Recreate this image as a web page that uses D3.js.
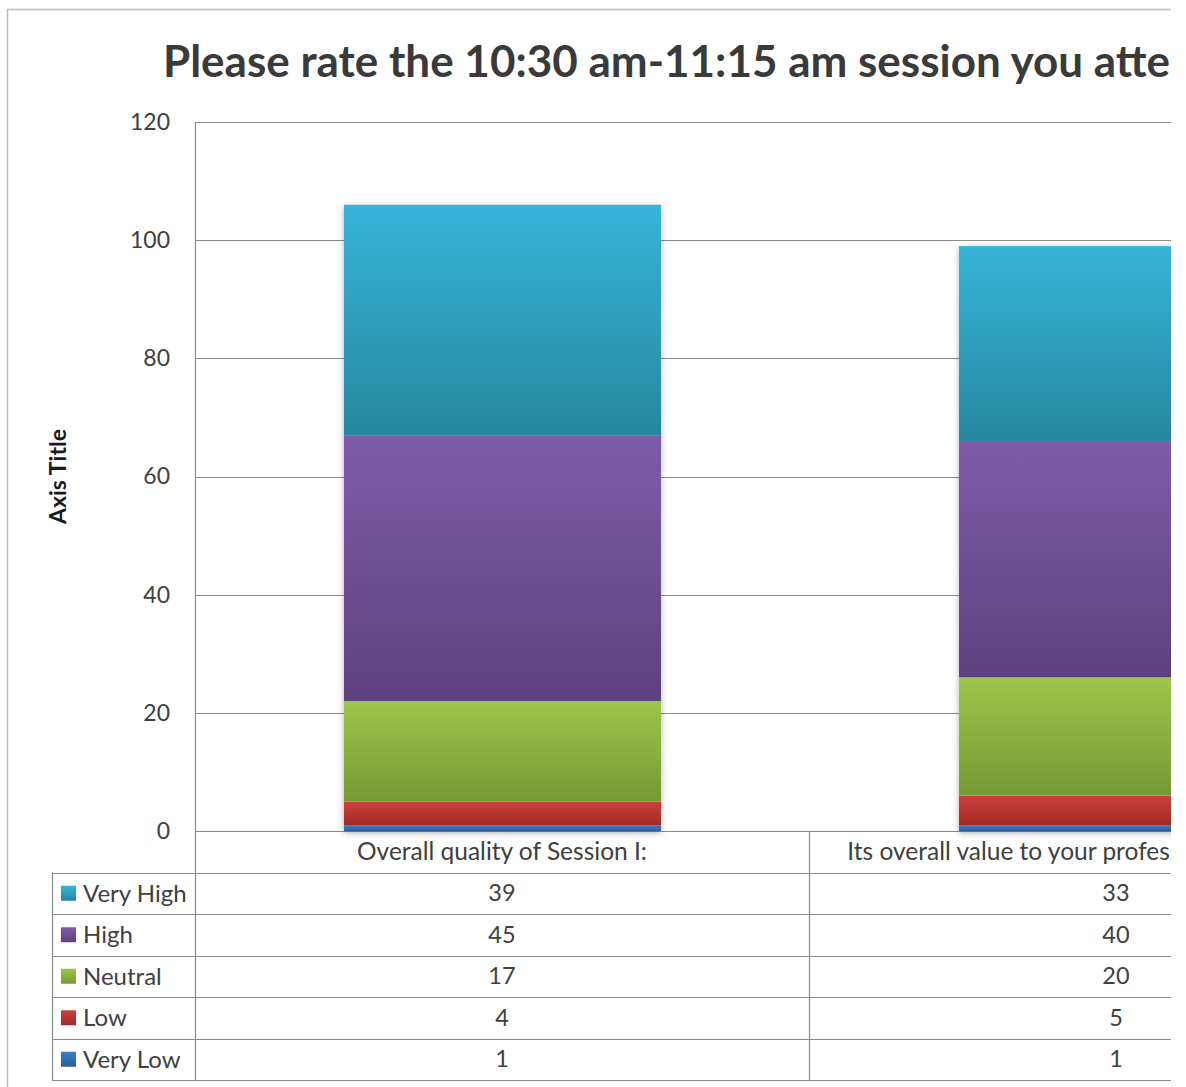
<!DOCTYPE html>
<html><head><meta charset="utf-8">
<script src="https://cdn.jsdelivr.net/npm/d3@7"></script>
<style>html,body{margin:0;padding:0;background:#fff;}svg{display:block;}</style>
</head><body>
<script>
const titleText = "Please rate the 10:30 am-11:15 am session you attended:";
const categories = ["Overall quality of Session I:", "Its overall value to your professional development:"];
const seriesNames = ["Very Low", "Low", "Neutral", "High", "Very High"];
const veryLow = [1, 1];
const low = [4, 5];
const neutral = [17, 20];
const high = [45, 40];
const veryHigh = [39, 33];
const yTicks = [0, 20, 40, 60, 80, 100, 120];
const axisTitle = "Axis Title";

const seriesValues = {"Very Low": veryLow, "Low": low, "Neutral": neutral, "High": high, "Very High": veryHigh};
const grad = {
  "Very High": ["#37b4d9", "#26879f"],
  "High": ["#7f5ba9", "#5d417f"],
  "Neutral": ["#9dc64a", "#769933"],
  "Low": ["#cf403d", "#9f2a28"],
  "Very Low": ["#3b7fcc", "#2c5d99"]
};

const W = 1186, H = 1087, CLIPX = 1171;
const FONT = "Lato, 'Open Sans', sans-serif";
const TXT = "#404040";

const svg = d3.select("body").append("svg").attr("width", W).attr("height", H);
const defs = svg.append("defs");
defs.append("clipPath").attr("id", "clip").append("rect").attr("x", 0).attr("y", 0).attr("width", CLIPX).attr("height", H);
seriesNames.forEach((s, i) => {
  const g = defs.append("linearGradient").attr("id", "g" + i).attr("x1", 0).attr("y1", 0).attr("x2", 0).attr("y2", 1);
  g.append("stop").attr("offset", "0%").attr("stop-color", grad[s][0]);
  g.append("stop").attr("offset", "100%").attr("stop-color", grad[s][1]);
});
const f = defs.append("filter").attr("id", "shadow").attr("x", "-10%").attr("y", "-10%").attr("width", "120%").attr("height", "120%");
f.append("feDropShadow").attr("dx", 0).attr("dy", 2).attr("stdDeviation", 3).attr("flood-color", "#000").attr("flood-opacity", 0.3);

const root = svg.append("g").attr("clip-path", "url(#clip)");

// outer border
root.append("rect").attr("x", 7.5).attr("y", 9.5).attr("width", 1400).attr("height", 1100)
  .attr("fill", "none").attr("stroke", "#bcbcbc").attr("stroke-width", 1.5);

// title
root.append("text").attr("x", 163).attr("y", 77).text(titleText)
  .attr("font-family", FONT).attr("font-weight", "bold").attr("font-size", 44).attr("fill", "#3a3a3a");

const plotTop = 122, plotBottom = 831, plotLeft = 195;
const y = d3.scaleLinear().domain([0, 120]).range([plotBottom, plotTop]);
const x = d3.scaleBand().domain(categories).range([plotLeft, plotLeft + 1230]).paddingInner(0.4846).paddingOuter(0.2423);
const xCol = d3.scaleBand().domain(categories).range([plotLeft, plotLeft + 1228]).padding(0);

// gridlines
root.append("g").selectAll("line").data(yTicks).join("line")
  .attr("x1", plotLeft).attr("x2", 1500).attr("y1", d => Math.round(y(d)) + 0.5).attr("y2", d => Math.round(y(d)) + 0.5)
  .attr("stroke", "#8a8a8a").attr("stroke-width", 1.2);
// left axis line
root.append("line").attr("x1", plotLeft + 0.5).attr("x2", plotLeft + 0.5).attr("y1", plotTop).attr("y2", plotBottom)
  .attr("stroke", "#8a8a8a").attr("stroke-width", 1.2);

// y axis labels
const yAxis = d3.axisLeft(y).tickValues(yTicks).tickSize(0).tickPadding(25);
const ya = root.append("g").attr("transform", `translate(${plotLeft},0)`).call(yAxis);
ya.select(".domain").remove();
ya.selectAll("text").attr("font-family", FONT).attr("font-size", 23).attr("fill", TXT);

// axis title
root.append("text").attr("transform", `translate(66,${(plotTop + plotBottom) / 2}) rotate(-90)`)
  .attr("text-anchor", "middle").text(axisTitle)
  .attr("font-family", FONT).attr("font-weight", "bold").attr("font-size", 23).attr("fill", "#1a1a1a");

// stacked bars
const rows = categories.map((c, i) => { const o = {cat: c}; seriesNames.forEach(s => o[s] = seriesValues[s][i]); return o; });
const stack = d3.stack().keys(seriesNames)(rows);
const barsG = root.append("g");
barsG.selectAll("rect.sh").data(rows).join("rect").attr("class", "sh")
  .attr("x", d => x(d.cat)).attr("width", x.bandwidth())
  .attr("y", d => y(d3.sum(seriesNames, s => d[s]))).attr("height", d => y(0) - y(d3.sum(seriesNames, s => d[s])))
  .attr("fill", "#fff").attr("filter", "url(#shadow)");
stack.forEach((layer, i) => {
  barsG.append("g").selectAll("rect").data(layer).join("rect")
    .attr("x", d => x(d.data.cat)).attr("width", x.bandwidth())
    .attr("y", d => y(d[1])).attr("height", d => y(d[0]) - y(d[1]))
    .attr("fill", `url(#g${i})`);
});

// data table
const tableRows = ["header"].concat(seriesNames.slice().reverse());
const ry = d3.scaleBand().domain(tableRows).range([831, 1080]);
const lineColor = "#8a8a8a";
const tg = root.append("g");
tableRows.slice(1).forEach(r => {
  tg.append("line").attr("x1", 52).attr("x2", 1500).attr("y1", Math.round(ry(r)) + 0.5).attr("y2", Math.round(ry(r)) + 0.5)
    .attr("stroke", lineColor).attr("stroke-width", 1.2);
});
tg.append("line").attr("x1", 52).attr("x2", 1500).attr("y1", 1080.5).attr("y2", 1080.5).attr("stroke", lineColor).attr("stroke-width", 1.2);
tg.append("line").attr("x1", 52.5).attr("x2", 52.5).attr("y1", ry(tableRows[1])).attr("y2", 1081).attr("stroke", lineColor).attr("stroke-width", 1.2);
[plotLeft].concat(categories.map(c => xCol(c) + xCol.bandwidth())).forEach(xx => {
  tg.append("line").attr("x1", Math.round(xx) + 0.5).attr("x2", Math.round(xx) + 0.5).attr("y1", 831).attr("y2", 1081)
    .attr("stroke", lineColor).attr("stroke-width", 1.2);
});
tg.selectAll("text.hd").data(categories).join("text").attr("class", "hd")
  .attr("x", d => xCol(d) + xCol.bandwidth() / 2).attr("y", ry("header") + ry.bandwidth() / 2).attr("dy", "0.35em")
  .attr("text-anchor", "middle").text(d => d)
  .attr("font-family", FONT).attr("font-size", 24.5).attr("fill", TXT);
seriesNames.forEach(s => {
  tg.append("g").selectAll("text").data(categories).join("text")
    .attr("x", d => xCol(d) + xCol.bandwidth() / 2).attr("y", ry(s) + ry.bandwidth() / 2).attr("dy", "0.35em")
    .attr("text-anchor", "middle").text((d, i) => seriesValues[s][i])
    .attr("font-family", FONT).attr("font-size", 23.5).attr("fill", TXT);
});
seriesNames.forEach((s, i) => {
  tg.append("rect").attr("x", 61).attr("y", ry(s) + ry.bandwidth() / 2 - 7.5).attr("width", 15).attr("height", 15)
    .attr("fill", `url(#g${i})`);
  tg.append("text").attr("x", 83).attr("y", ry(s) + ry.bandwidth() / 2).attr("dy", "0.35em").text(s)
    .attr("font-family", FONT).attr("font-size", 24).attr("fill", TXT);
});
</script>
</body></html>
